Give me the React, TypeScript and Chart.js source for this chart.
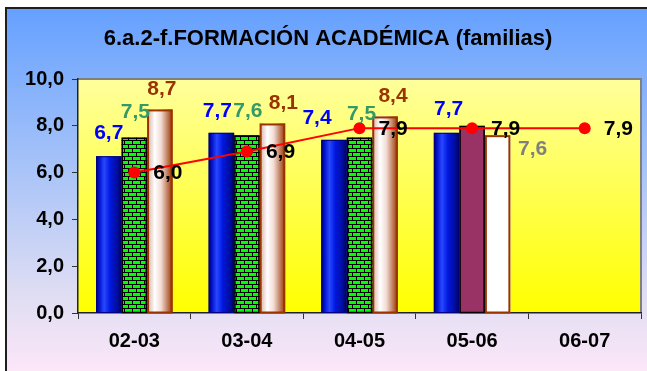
import React, { useEffect, useRef } from 'react';
import { Chart, registerables } from 'chart.js';

Chart.register(...registerables);

// ---------- data ----------
const categories = ['02-03', '03-04', '04-05', '05-06', '06-07'];
const seriesA = [6.7, 7.7, 7.4, 7.7, null];
const seriesB = [7.5, 7.6, 7.5, 8.0, null];
const seriesC = [8.7, 8.1, 8.4, 7.6, null];
const lineValues = [6.0, 6.9, 7.9, 7.9, 7.9];
const yTickValues = [0, 2, 4, 6, 8, 10];
const titleText = '6.a.2-f.FORMACIÓN ACADÉMICA (familias)';

// ---------- layout / style ----------
const W = 647;
const H = 371;
const PLOT = { left: 78, right: 642, top: 79, bottom: 313 };
const FONT = '"Liberation Sans", Arial, Helvetica, sans-serif';
const LABEL_FONT = `bold 21px ${FONT}`;

// per-bar label nudges: [dx, gap above bar top to baseline]; null = hidden
const labelNudgeA = [[0, 17], [-4, 16], [-17, 16], [2, 18], null];
const labelNudgeB = [[1, 20], [1, 18], [2, 18], null, null];
const labelNudgeC = [[2, 14], [11, 14], [8, 14], [35, -20], null];
const labelColorsA = ['#0000ff', '#0000ff', '#0000ff', '#0000ff', '#0000ff'];
const labelColorsB = ['#339966', '#339966', '#339966', '#339966', '#339966'];
const labelColorsC = ['#993300', '#993300', '#993300', '#808080', '#993300'];

const fmt = (v: number) => v.toFixed(1).replace('.', ',');

function makeBrickPattern(ctx: CanvasRenderingContext2D) {
  const c = document.createElement('canvas');
  c.width = 8;
  c.height = 8;
  const p = c.getContext('2d')!;
  p.fillStyle = '#00ff00';
  p.fillRect(0, 0, 8, 8);
  p.fillStyle = '#000000';
  p.fillRect(0, 0, 8, 1);
  p.fillRect(0, 4, 8, 1);
  p.fillRect(0, 0, 1, 4);
  p.fillRect(4, 4, 1, 4);
  return ctx.createPattern(c, 'repeat');
}

const decorPlugin = {
  id: 'decor',
  beforeDraw(chart: any) {
    const ctx: CanvasRenderingContext2D = chart.ctx;
    ctx.save();
    ctx.fillStyle = '#ffffff';
    ctx.fillRect(0, 0, W, H);
    const bg = ctx.createLinearGradient(0, 7, 0, H);
    bg.addColorStop(0, '#64a0ff');
    bg.addColorStop(0.45, '#a9c4f8');
    bg.addColorStop(0.8, '#e1def3');
    bg.addColorStop(1, '#fce6f8');
    ctx.fillStyle = bg;
    ctx.fillRect(5, 7, W - 5, H - 7);
    ctx.strokeStyle = '#1e1e1e';
    ctx.lineWidth = 2;
    ctx.beginPath();
    ctx.moveTo(6, H);
    ctx.lineTo(6, 8);
    ctx.lineTo(W, 8);
    ctx.stroke();

    const a = chart.chartArea;
    const pg = ctx.createLinearGradient(0, a.top, 0, a.bottom);
    pg.addColorStop(0, '#ffff9c');
    pg.addColorStop(1, '#ffff00');
    ctx.fillStyle = pg;
    ctx.fillRect(a.left, a.top, a.right - a.left, a.bottom - a.top);
    ctx.strokeStyle = '#808080';
    ctx.lineWidth = 2;
    ctx.beginPath();
    ctx.moveTo(a.left, a.top);
    ctx.lineTo(a.right, a.top);
    ctx.lineTo(a.right, a.bottom);
    ctx.stroke();

    ctx.fillStyle = '#000000';
    ctx.font = `bold 22px ${FONT}`;
    ctx.textAlign = 'center';
    ctx.textBaseline = 'middle';
    ctx.fillText(titleText, 328, 39);
    ctx.restore();
  },
  beforeDatasetDraw(chart: any, args: any) {
    const meta = args.meta;
    if (meta.type !== 'bar') return;
    const ctx: CanvasRenderingContext2D = chart.ctx;
    const ds = args.index;
    const values = chart.data.datasets[ds].data;
    meta.data.forEach((el: any, i: number) => {
      if (values[i] == null) return;
      const { x, y, base, width } = el.getProps(['x', 'y', 'base', 'width'], true);
      const l = x - width / 2;
      const r = x + width / 2;
      ctx.save();
      let fill: any;
      let stroke = '#000000';
      let lw = 1;
      if (ds === 0) {
        const g = ctx.createLinearGradient(l, 0, r, 0);
        g.addColorStop(0, '#000060');
        g.addColorStop(0.12, '#0010c8');
        g.addColorStop(0.32, '#2848ff');
        g.addColorStop(0.55, '#0018e0');
        g.addColorStop(0.85, '#000c98');
        g.addColorStop(1, '#000050');
        fill = g;
        stroke = '#000080';
        lw = 1;
      } else if (ds === 1) {
        if (i === 3) {
          fill = '#993366';
        } else {
          fill = makeBrickPattern(ctx);
        }
        stroke = '#000000';
        lw = 1.5;
      } else {
        if (i === 3) {
          fill = '#ffffff';
        } else {
          const g = ctx.createLinearGradient(l, 0, r, 0);
          g.addColorStop(0, '#d6aa9c');
          g.addColorStop(0.3, '#ffffff');
          g.addColorStop(0.55, '#f2dcd4');
          g.addColorStop(1, '#993300');
          fill = g;
        }
        stroke = '#993300';
        lw = 2;
      }
      ctx.fillStyle = fill;
      ctx.fillRect(l, y, width, base - y);
      ctx.strokeStyle = stroke;
      ctx.lineWidth = lw;
      ctx.strokeRect(l + lw / 2, y + lw / 2, width - lw, base - y - lw / 2);
      ctx.restore();
    });
    return false;
  },
  afterDatasetsDraw(chart: any) {
    const ctx: CanvasRenderingContext2D = chart.ctx;
    ctx.save();
    ctx.font = LABEL_FONT;
    ctx.textAlign = 'center';
    ctx.textBaseline = 'alphabetic';
    const sets = [
      { nudges: labelNudgeA, colors: labelColorsA },
      { nudges: labelNudgeB, colors: labelColorsB },
      { nudges: labelNudgeC, colors: labelColorsC },
    ];
    sets.forEach((s, ds) => {
      const meta = chart.getDatasetMeta(ds);
      const values = chart.data.datasets[ds].data;
      meta.data.forEach((el: any, i: number) => {
        const v = values[i];
        const n = s.nudges[i];
        if (v == null || !n) return;
        const { x, y } = el.getProps(['x', 'y'], true);
        ctx.fillStyle = s.colors[i];
        ctx.fillText(fmt(v), x + n[0], y - n[1]);
      });
    });
    const lm = chart.getDatasetMeta(3);
    ctx.textAlign = 'left';
    ctx.textBaseline = 'middle';
    ctx.fillStyle = '#000000';
    lm.data.forEach((el: any, i: number) => {
      const v = lineValues[i];
      if (v == null) return;
      const { x, y } = el.getProps(['x', 'y'], true);
      ctx.fillText(fmt(v), x + 19, y + 1);
    });
    ctx.restore();
  },
};

export default function App() {
  const ref = useRef<HTMLCanvasElement>(null);
  useEffect(() => {
    if (!ref.current) return;
    const chart = new Chart(ref.current, {
      type: 'bar',
      data: {
        labels: categories,
        datasets: [
          { type: 'bar', label: 'A', data: seriesA, order: 1, backgroundColor: '#0000ff' },
          { type: 'bar', label: 'B', data: seriesB, order: 1, backgroundColor: '#00ff00' },
          { type: 'bar', label: 'C', data: seriesC, order: 1, backgroundColor: '#993300' },
          {
            type: 'line',
            label: 'L',
            data: lineValues,
            order: 0,
            borderColor: '#ff0000',
            borderWidth: 2,
            backgroundColor: '#ff0000',
            pointRadius: 6,
            pointBackgroundColor: '#ff0000',
            pointBorderColor: '#ff0000',
            pointBorderWidth: 0,
            tension: 0,
          },
        ] as any,
      },
      options: {
        responsive: false,
        animation: false,
        devicePixelRatio: 1,
        layout: { padding: { top: PLOT.top, right: W - PLOT.right, left: 0, bottom: 0 } },
        plugins: { legend: { display: false }, tooltip: { enabled: false }, title: { display: false } },
        datasets: { bar: { categoryPercentage: 0.68, barPercentage: 1.0 } },
        scales: {
          x: {
            type: 'category',
            offset: true,
            grid: { display: true, drawOnChartArea: false, drawTicks: true, tickLength: 6, color: '#333333', offset: true },
            border: { display: true, color: '#222222', width: 1.5 },
            ticks: { color: '#000000', font: { family: FONT, size: 20, weight: 'bold' }, padding: 10, maxRotation: 0 },
            afterFit: (s: any) => { s.height = H - PLOT.bottom; },
          },
          y: {
            min: 0,
            max: 10,
            afterBuildTicks: (s: any) => { s.ticks = yTickValues.map((v) => ({ value: v })); },
            grid: { display: true, drawOnChartArea: false, drawTicks: true, tickLength: 6, color: '#333333' },
            border: { display: true, color: '#222222', width: 1.5 },
            ticks: {
              color: '#000000',
              font: { family: FONT, size: 20, weight: 'bold' },
              padding: 8,
              callback: (v: any) => fmt(Number(v)),
            },
            afterFit: (s: any) => { s.width = PLOT.left; },
          },
        },
      } as any,
      plugins: [decorPlugin],
    });
    return () => chart.destroy();
  }, []);
  return (
    <div style={{ position: 'fixed', left: 0, top: 0, width: W, height: H }}>
      <canvas ref={ref} width={W} height={H} style={{ display: 'block', width: W, height: H }} />
    </div>
  );
}
